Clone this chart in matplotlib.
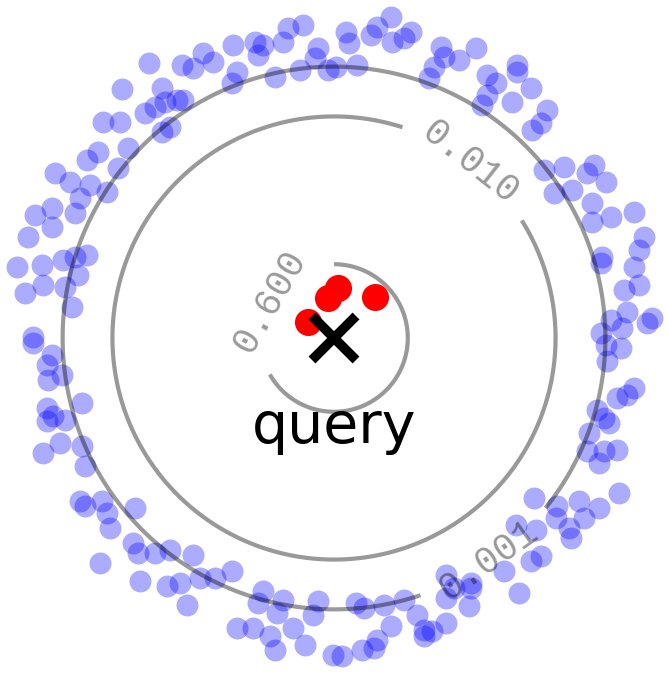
import numpy as np
import matplotlib
matplotlib.use("Agg")
import matplotlib.pyplot as plt

# query point and its nearest neighbours
query = (0.0, 0.0)
near_x = [0.04, -0.06, 0.41, -0.26]
near_y = [0.50, 0.40, 0.41, 0.16]

# far points, lying on a ring around the query
far_x = [-0.31, -0.46, -0.51, -0.71, -0.79, -0.76, -1.01, -1.31, -1.21, -1.41,
         -1.52, -1.85, -0.16, -0.19, -0.06, -0.34, -0.59, -0.97, -1.02, -2.12,
         -1.72, -1.57, -1.69, -1.79, -1.89, -1.72, -1.64, -1.51, -2.31, -2.14,
         -2.06, -2.36, -2.47, -2.16, -2.79, -2.64, -2.44, -2.27, -2.54, -2.59,
         -2.82, -2.99, -2.82, -3.06, -2.71, -2.59, -2.47, -2.56, -2.92, -3.17,
         -2.91, -3.09, -2.69, -2.62, -3.01,
         0.57, 0.43, 0.12, 0.15, 0.37, 0.58, 0.77, 0.70, 0.23, 0.02,
         1.07, 1.10, 1.25, 1.42, 1.00, 0.95, 1.53, 1.62, 1.83, 1.83,
         1.53, 1.48, 1.78, 1.97, 2.13, 2.07, 1.98, 2.10, 2.30, 2.20,
         2.38, 2.53, 2.60, 2.72, 2.58, 2.77, 2.58, 3.00, 3.10, 3.05,
         2.68, 2.67, 3.00, 3.05, 2.90, 3.18, 3.13, 2.93, 2.88, 2.67, 2.77,
         -3.01, -2.82, -2.87, -2.86, -2.72, -2.52, -2.87, -2.81, -2.87, -2.69,
         -2.74, -2.52, -2.91, -2.49, -2.54, -2.49, -2.32, -2.27, -2.24, -1.99,
         -2.34, -2.01, -1.96, -1.79, -1.64, -1.41, -1.94, -1.67, -1.54, -1.47,
         -1.34, -1.19, -1.02, -0.76, -0.71, -0.51, -0.57, -0.41, -0.29, -0.16,
         -0.21, -0.97, -0.81, -0.64, -0.59, -0.01,
         2.72, 2.87, 2.73, 3.00, 2.93, 2.83, 2.63, 2.70, 2.75, 2.55,
         2.70, 2.83, 2.53, 2.65, 2.85, 2.00, 2.23, 2.45, 2.65, 2.50,
         2.22, 2.35, 2.37, 1.82, 2.02, 2.07, 1.97, 1.70, 1.85, 1.37,
         1.12, 1.20, 1.12, 1.35, 1.37, 0.22, 0.30, 0.50, 0.70, 0.57,
         0.83, 0.90, 0.98, 0.90, 1.12, 0.43, 0.40, 0.28, 0.08]
far_y = [3.13, 3.10, 2.96, 2.93, 2.96, 2.83, 2.93, 2.85, 2.76, 2.70,
         2.73, 2.75, 2.90, 2.80, 2.68, 2.68, 2.61, 2.66, 2.55, 2.49,
         2.50, 2.38, 2.36, 2.31, 2.25, 2.06, 2.11, 2.38, 2.16, 2.16,
         1.90, 1.86, 1.78, 1.70, 1.65, 1.56, 1.53, 1.46, 1.40, 1.25,
         1.30, 1.23, 1.11, 1.01, 0.78, 0.81, 0.83, 0.63, 0.73, 0.71,
         0.53, 0.45, 0.51, 0.31, 0.01,
         3.21, 3.11, 3.06, 2.95, 3.03, 2.96, 3.06, 3.00, 2.73, 2.71,
         2.91, 2.81, 2.78, 2.90, 2.71, 2.60, 2.63, 2.55, 2.73, 2.66,
         2.43, 2.33, 2.36, 2.50, 2.28, 2.15, 2.08, 1.68, 1.71, 1.45,
         1.48, 1.65, 1.73, 1.56, 1.35, 1.21, 1.16, 1.26, 1.01, 0.88,
         0.81, 0.75, 0.71, 0.53, 0.48, 0.20, 0.15, 0.26, 0.10, 0.05, 0.18,
         -0.05, -0.17, -0.27, -0.42, -0.37, -0.65, -0.70, -0.78, -0.83, -0.82,
         -1.05, -1.08, -1.15, -1.28, -1.63, -1.68, -1.63, -1.75, -1.90, -1.70,
         -2.25, -2.05, -2.15, -2.15, -2.12, -2.17, -2.43, -2.48, -2.45, -2.67,
         -2.40, -2.40, -2.33, -2.65, -2.53, -2.62, -2.75, -2.90, -3.07, -2.63,
         -2.77, -2.90, -2.90, -2.98, -3.12, -3.17,
         -0.07, -0.10, -0.23, -0.50, -0.57, -0.60, -0.72, -0.80, -0.85, -0.95,
         -1.13, -1.12, -1.13, -1.25, -1.55, -1.60, -1.68, -1.63, -1.70, -1.80,
         -1.80, -1.90, -2.00, -1.87, -1.92, -2.18, -2.23, -2.33, -2.55, -2.50,
         -2.37, -2.50, -2.60, -2.68, -2.45, -2.65, -2.70, -2.67, -2.62, -2.88,
         -2.77, -2.92, -2.93, -2.98, -2.85, -3.02, -3.10, -3.12, -3.18]

# gaussian similarity around the query
sigma = 0.73
levels = [0.001, 0.01, 0.6]
label_pos = [(1.55, -2.22), (1.36, 1.74), (-0.64, 0.37)]

fig = plt.figure(figsize=(6.68, 6.76), dpi=100)
ax = fig.add_axes([0, 0, 1, 1])

gx, gy = np.meshgrid(np.linspace(-3.4, 3.4, 400), np.linspace(-3.4, 3.4, 400))
sim = np.exp(-((gx - query[0]) ** 2 + (gy - query[1]) ** 2) / (2 * sigma ** 2))
cs = ax.contour(gx, gy, sim, levels=levels, colors="k", alpha=0.4, linewidths=3)

# contour labels are in a mono font
plt.rcParams["font.family"] = "Liberation Mono"
ax.clabel(cs, fmt="%.3f", fontsize=27, inline=True, inline_spacing=20,
          manual=label_pos)

ax.scatter(far_x, far_y, s=250, c="blue", alpha=0.33, linewidths=0)
ax.scatter(near_x, near_y, s=380, c="red", linewidths=0)
ax.plot(query[0], query[1], "kx", markersize=32, mew=7)
ax.text(query[0], -1.05, "query", fontsize=41, ha="center", va="baseline",
        family="DejaVu Sans")

ax.set_xlim(-3.34, 3.34)
ax.set_ylim(-3.38, 3.38)
ax.set_aspect("equal")
ax.axis("off")

fig.savefig("out.png", dpi=100)
